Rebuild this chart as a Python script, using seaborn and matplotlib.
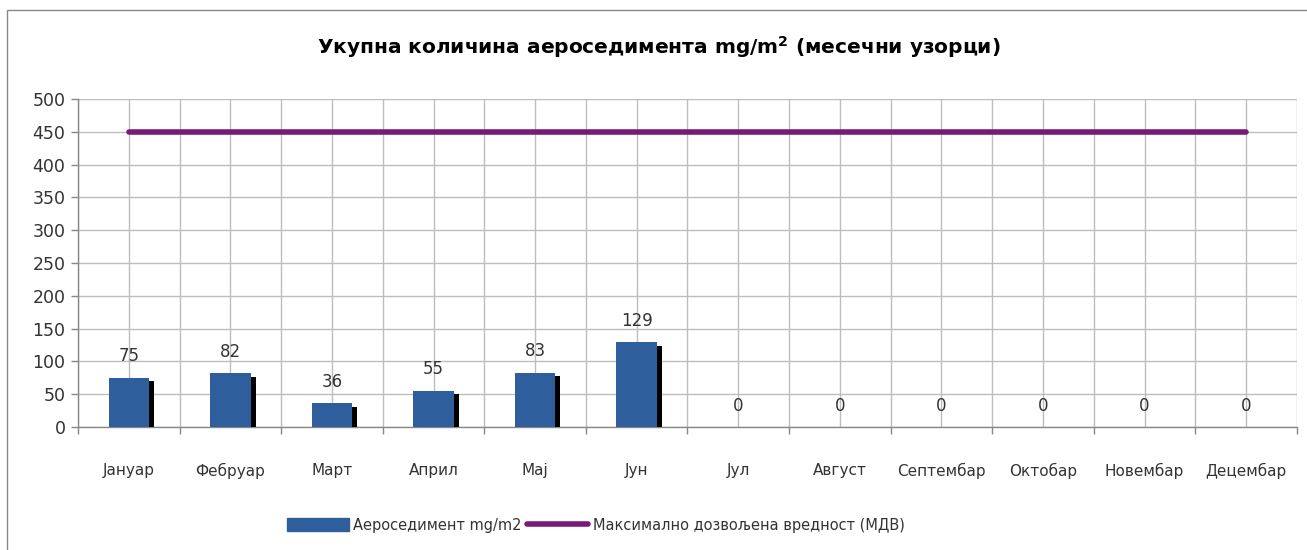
#!/usr/bin/env python3
import matplotlib
matplotlib.use('Agg')
import matplotlib.pyplot as plt
import matplotlib.patheffects as pe
from matplotlib.patches import Rectangle
from matplotlib.lines import Line2D
from matplotlib.patches import Patch
import numpy as np
import pandas as pd
import seaborn as sns

# Data
months = ['Јануар', 'Фебруар', 'Март', 'Април', 'Мај', 'Јун', 'Јул',
          'Август', 'Септембар', 'Октобар', 'Новембар', 'Децембар']
sediment = [75, 82, 36, 55, 83, 129, 0, 0, 0, 0, 0, 0]
mdv = [450] * 12
y_ticks = [0, 50, 100, 150, 200, 250, 300, 350, 400, 450, 500]

title = 'Укупна количина аероседимента mg/m$^{\\mathbf{2}}$ (месечни узорци)'
bar_label = 'Аероседимент mg/m2'
line_label = 'Максимално дозвољена вредност (МДВ)'

BAR_COLOR = '#2f5e9c'
LINE_COLOR = '#7a1a78'
GRID_COLOR = '#bdbdbd'

df = pd.DataFrame({'month': months, 'sediment': sediment, 'mdv': mdv})

sns.set_style('white')
plt.rcParams['font.family'] = ['DejaVu Sans']

fig = plt.figure(figsize=(13.07, 5.5), dpi=100)
ax = fig.add_axes([0.0597, 0.2236, 0.9326, 0.5964])

sns.barplot(data=df, x='month', y='sediment', color=BAR_COLOR, width=0.4,
            saturation=1, linewidth=0, ax=ax, zorder=3)
for bar in ax.patches:
    bar.set_path_effects([pe.SimplePatchShadow(offset=(3.5, -2.5), shadow_rgbFace='black',
                                               alpha=1.0), pe.Normal()])
ax.bar_label(ax.containers[0], labels=[str(v) for v in sediment], padding=9,
             fontsize=12, color='#333333')

sns.lineplot(data=df, x='month', y='mdv', color=LINE_COLOR, linewidth=4,
             ax=ax, zorder=4, sort=False)

ax.set_xlim(-0.5, len(months) - 0.5)
ax.set_ylim(0, 500)
ax.set_yticks(y_ticks)
ax.set_xlabel('')
ax.set_ylabel('')

# gridlines at centres and boundaries of each month
ax.set_xticks(np.arange(len(months)))
ax.set_xticklabels(months)
ax.set_xticks(np.arange(len(months) + 1) - 0.5, minor=True)
ax.grid(True, which='both', axis='x', color=GRID_COLOR, linewidth=1, zorder=0)
ax.grid(True, which='major', axis='y', color=GRID_COLOR, linewidth=1, zorder=0)
ax.set_axisbelow(True)

ax.tick_params(axis='x', which='major', length=0, pad=26, labelsize=11, labelcolor='#333333')
ax.tick_params(axis='x', which='minor', length=5, width=1, color='#888888', direction='out')
ax.tick_params(axis='y', length=5, width=1, color='#888888', direction='out', pad=4,
               labelsize=12.5, labelcolor='#333333')
ax.tick_params(left=True, bottom=True, which='both')

for side in ['top', 'right']:
    ax.spines[side].set_visible(False)
for side in ['left', 'bottom']:
    ax.spines[side].set_color('#888888')
    ax.spines[side].set_linewidth(1)

fig.text(0.504, 0.914, title, ha='center', va='center', fontsize=14.5,
         fontweight='bold', color='black')

handles = [Patch(facecolor=BAR_COLOR, edgecolor=BAR_COLOR),
           Line2D([0], [0], color=LINE_COLOR, linewidth=4)]
fig.legend(handles, [bar_label, line_label], loc='center', bbox_to_anchor=(0.456, 0.045),
           ncol=2, frameon=False, fontsize=10.5, handlelength=4.2, handleheight=1.0,
           handletextpad=0.3, columnspacing=0.4, labelcolor='#333333')

# outer chart frame
fig.add_artist(Rectangle((0.0054, -0.1), 1.2, 1.1 - 10 / 550, transform=fig.transFigure,
                         fill=False, edgecolor='#888888', linewidth=1))

fig.savefig('out.png', dpi=100)
